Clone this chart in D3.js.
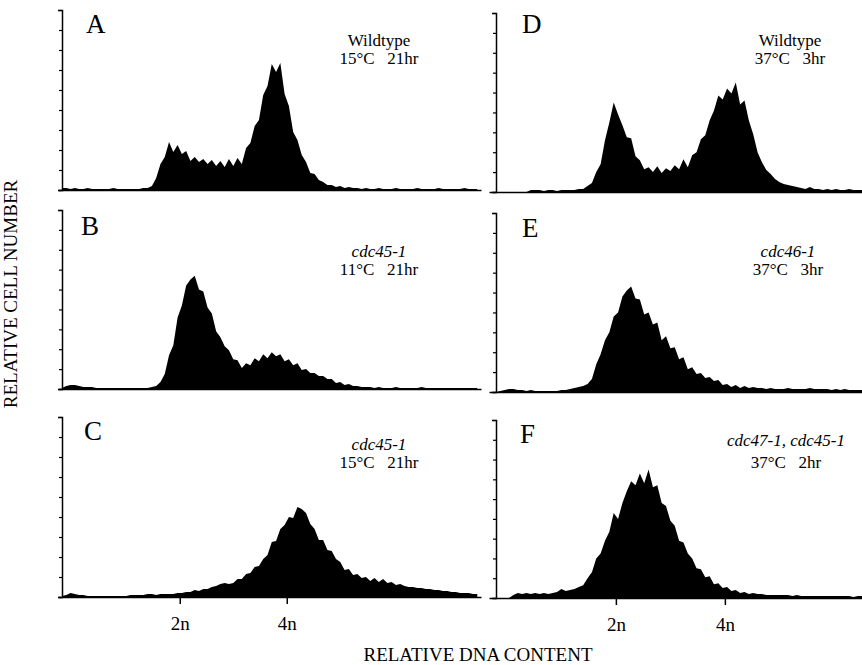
<!DOCTYPE html>
<html>
<head>
<meta charset="utf-8">
<script src="https://cdn.jsdelivr.net/npm/d3@7"></script>
<style>
  html, body { margin: 0; padding: 0; background: #fff; }
  svg { display: block; }
  text { font-family: "Liberation Serif", "DejaVu Serif", serif; fill: #000; }
</style>
</head>
<body>
<svg id="chart" width="862" height="665"></svg>
<script>
// ---------- DATA ----------
const channelStep = 8;                 // channels per histogram bin
const tickChannels = [220, 420];       // 2n and 4n DNA content channels
const tickLabels = ["2n", "4n"];
const yTicks = [0, 20, 40, 60, 80, 100, 120, 140, 160, 180];

const panelLetters = ["A", "B", "C", "D", "E", "F"];
const strainLabels = ["Wildtype", "cdc45-1", "cdc45-1", "Wildtype", "cdc46-1", "cdc47-1, cdc45-1"];
const strainItalic = [false, true, true, false, true, true];
const conditionLabels = ["15°C\u00A0\u00A0\u00A021hr", "11°C\u00A0\u00A0\u00A021hr", "15°C\u00A0\u00A0\u00A021hr",
                         "37°C\u00A0\u00A0\u00A03hr", "37°C\u00A0\u00A0\u00A03hr", "37°C\u00A0\u00A0\u00A02hr"];

const seriesA = [2,2,1,2,1,1,2,1,1,1, 1,1,2,1,1,1,1,1,1,2,
  2,4,12,26,33,48,38,45,36,39, 29,33,28,31,26,30,24,29,23,31,
  24,32,26,42,47,64,70,95,104,126, 118,127,96,84,58,50,35,28,17,16,
  10,8,5,5,3,4,2,3,2,2, 1,2,1,1,2,1,1,1,2,1, 1,1,1,2,1,1,1,1,2,1, 1,1,1,1,2,1,1,1];
const seriesB = [1,3,4,4,3,2,2,2,1,1, 1,1,1,1,1,1,1,1,1,1,
  1,2,3,7,15,34,44,72,84,104, 110,114,100,98,82,76,58,52,43,39,
  30,29,21,26,24,31,28,35,31,37, 33,35,28,30,24,26,19,20,16,16,
  13,13,10,10,6,7,4,5,3,3, 2,2,2,1,2,1,1,1,2,1, 1,1,1,1,2,1,1,1,1,1, 1,1,1,1,1,1,1,1];
const seriesC = [1,2,4,3,2,2,1,1,1,1, 1,1,1,1,1,1,2,2,2,2,
  3,3,2,3,3,3,3,4,4,5, 5,7,6,8,8,10,11,13,14,13,
  14,18,18,23,24,30,31,38,42,55, 56,68,72,80,79,90,88,84,73,68,
  57,57,47,46,38,35,27,28,22,23, 19,20,16,19,15,18,14,15,12,13,
  11,10,10,9,9,8,8,7,7,6, 6,5,5,4,4,4,3,3];
const seriesD = [0,0,0,0,0,0,0,0,2,2, 2,1,2,2,1,2,2,2,2,3,
  3,6,9,20,28,52,70,90,78,67, 55,54,36,32,23,25,20,26,19,24,
  21,27,23,33,25,37,40,53,57,72, 82,97,93,104,99,110,88,92,72,58,
  40,30,22,18,13,10,8,7,6,5, 4,3,5,3,3,2,3,2,3,2, 2,3,2,2,2];
const seriesE = [0,1,2,3,3,2,2,1,2,1, 1,1,1,1,1,2,2,3,4,5,
  6,8,13,28,38,52,60,76,80,96, 102,106,94,93,78,80,68,70,52,56,
  44,45,33,35,23,25,18,19,14,15, 11,12,7,8,5,7,4,6,4,5,
  4,4,3,4,3,3,3,4,3,3, 3,3,4,3,3,3,3,2,3,2, 3,2,2,2,2];
const seriesF = [0,0,0,0,3,5,4,5,4,5, 4,5,4,5,6,9,7,8,9,11,
  13,20,26,40,45,58,67,86,80,96, 108,118,114,126,116,130,112,114,96,93,
  78,73,58,56,45,40,30,29,21,22, 14,15,10,11,7,8,5,6,4,5,
  4,4,3,3,3,3,3,3,2,3, 2,2,2,2,2,2,2,2,2,2, 2,2,1,2,2];

const series = [seriesA, seriesB, seriesC, seriesD, seriesE, seriesF];

// ---------- LAYOUT ----------
const columns = [
  { axisX: 62,  xDomain: [-7.5, 783],    xRange: [58, 481] },
  { axisX: 496, xDomain: [-12.8, 671.6], xRange: [489, 862] }
];
const panels = [
  { col: 0, top: 10,  base: 190, ticks: false, letterX: 86,  letterY: 33,  textX: 379, strainY: 46,  condY: 64 },
  { col: 0, top: 210, base: 389, ticks: false, letterX: 81,  letterY: 235, textX: 379, strainY: 257, condY: 275 },
  { col: 0, top: 417, base: 597, ticks: true,  letterX: 84,  letterY: 440, textX: 379, strainY: 450, condY: 468 },
  { col: 1, top: 13,  base: 192, ticks: false, letterX: 522, letterY: 33,  textX: 790, strainY: 46,  condY: 64 },
  { col: 1, top: 213, base: 392, ticks: false, letterX: 522, letterY: 237, textX: 788, strainY: 257, condY: 275 },
  { col: 1, top: 420, base: 598, ticks: true,  letterX: 520, letterY: 443, textX: 786, strainY: 446, condY: 468 }
];

const svg = d3.select("#chart");

panels.forEach((p, k) => {
  const c = columns[p.col];
  const x = d3.scaleLinear().domain(c.xDomain).range(c.xRange);
  const y = d3.scaleLinear().domain([0, 180]).range([p.base, p.top]);
  const g = svg.append("g");

  const area = d3.area()
    .x((d, i) => x(i * channelStep))
    .y0(p.base)
    .y1(d => y(d))
    .curve(d3.curveLinear);
  g.append("path").datum(series[k]).attr("d", area).attr("fill", "#000");

  // x axis
  const xAxis = d3.axisBottom(x).tickValues(p.ticks ? tickChannels : []).tickSize(7).tickSizeOuter(0)
    .tickFormat((d, i) => tickLabels[i]);
  const gx = g.append("g").attr("transform", `translate(0,${p.base})`).call(xAxis);
  gx.select(".domain").attr("stroke", "#000").attr("stroke-width", 1.5);
  gx.selectAll(".tick line").attr("stroke", "#000").attr("stroke-width", 1.5);
  gx.selectAll(".tick text").attr("font-size", 19).attr("font-family", "Liberation Serif, serif")
    .attr("dy", null).attr("y", 33);

  // y axis
  const yAxis = d3.axisLeft(y).tickValues(yTicks).tickSize(3).tickSizeOuter(4).tickFormat("");
  const gy = g.append("g").attr("transform", `translate(${c.axisX},0)`).call(yAxis);
  gy.select(".domain").attr("stroke", "#000").attr("stroke-width", 1.5);
  gy.selectAll(".tick line").attr("stroke", "#000").attr("stroke-width", 1.2);

  // labels
  g.append("text").attr("x", p.letterX).attr("y", p.letterY).attr("font-size", 27).text(panelLetters[k]);
  g.append("text").attr("x", p.textX).attr("y", p.strainY).attr("text-anchor", "middle")
    .attr("font-size", 17)
    .attr("font-style", strainItalic[k] ? "italic" : "normal")
    .text(strainLabels[k]);
  g.append("text").attr("x", p.textX).attr("y", p.condY).attr("text-anchor", "middle")
    .attr("font-size", 17).text(conditionLabels[k]);
});

// axis titles
svg.append("text").attr("x", 478).attr("y", 661).attr("text-anchor", "middle")
  .attr("font-size", 19).text("RELATIVE DNA CONTENT");
svg.append("text").attr("transform", "translate(17,294) rotate(-90)").attr("text-anchor", "middle")
  .attr("font-size", 19).text("RELATIVE CELL NUMBER");
</script>
</body>
</html>
